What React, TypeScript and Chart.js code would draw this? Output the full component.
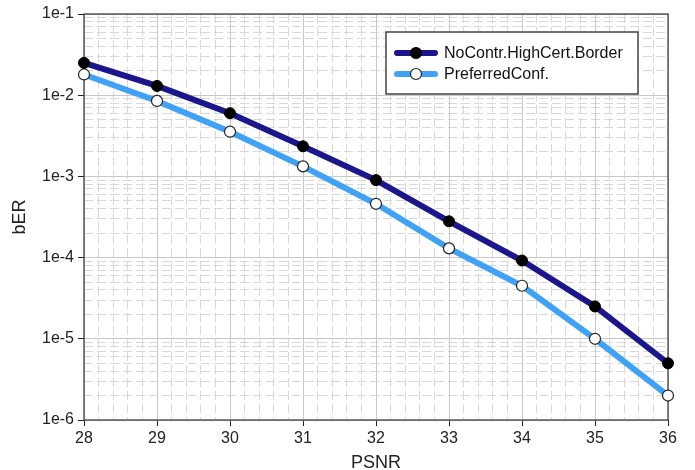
import React, { useEffect, useRef } from "react";
import { Chart, registerables } from "chart.js";

Chart.register(...registerables);

// PSNR values on the x axis
const psnr = [28, 29, 30, 31, 32, 33, 34, 35, 36];
// bit error rate per PSNR
const noContrHighCertBorder = [2.5e-2, 1.3e-2, 6.0e-3, 2.35e-3, 9.0e-4, 2.8e-4, 9.2e-5, 2.5e-5, 5.0e-6];
const preferredConf = [1.8e-2, 8.5e-3, 3.55e-3, 1.33e-3, 4.6e-4, 1.3e-4, 4.5e-5, 1.0e-5, 2.0e-6];
const seriesNames = ["NoContr.HighCert.Border", "PreferredConf."];
// decade ticks of the log axis
const decadeExponents = [-6, -5, -4, -3, -2, -1];

const FONT = "'Liberation Sans', Arial, Helvetica, sans-serif";
const DARK = "#1c168c";
const LIGHT = "#3fa2f6";

const framePlugin = {
  id: "frame",
  beforeDatasetsDraw(chart: any) {
    const { ctx, chartArea } = chart;
    ctx.save();
    ctx.strokeStyle = "#333";
    ctx.lineWidth = 1.2;
    ctx.strokeRect(chartArea.left, chartArea.top, chartArea.right - chartArea.left, chartArea.bottom - chartArea.top);
    ctx.restore();
  },
};

const boxedLegend = {
  id: "boxedLegend",
  afterDatasetsDraw(chart: any) {
    const { ctx } = chart;
    const x0 = 386, y0 = 32, w = 252, h = 62;
    ctx.save();
    ctx.fillStyle = "#fff";
    ctx.fillRect(x0, y0, w, h);
    ctx.strokeStyle = "#444";
    ctx.lineWidth = 1.5;
    ctx.strokeRect(x0, y0, w, h);
    chart.data.datasets.forEach((ds: any, i: number) => {
      const y = 53 + i * 21;
      ctx.beginPath();
      ctx.strokeStyle = ds.borderColor;
      ctx.lineWidth = 6;
      ctx.lineCap = "round";
      ctx.moveTo(397, y);
      ctx.lineTo(435, y);
      ctx.stroke();
      ctx.beginPath();
      ctx.arc(416, y, 5.5, 0, Math.PI * 2);
      ctx.fillStyle = ds.pointBackgroundColor;
      ctx.fill();
      ctx.lineWidth = 1.2;
      ctx.strokeStyle = ds.pointBorderColor;
      ctx.stroke();
      ctx.fillStyle = "#111";
      ctx.font = `16px ${FONT}`;
      ctx.textBaseline = "middle";
      ctx.textAlign = "left";
      ctx.fillText(ds.label, 444, y + 1);
    });
    ctx.restore();
  },
};

export default function App() {
  const ref = useRef<HTMLCanvasElement>(null);

  useEffect(() => {
    document.body.style.margin = "0";
    const canvas = ref.current;
    if (!canvas) return;
    const yMin = Math.pow(10, decadeExponents[0]);
    const yMax = Math.pow(10, decadeExponents[decadeExponents.length - 1]);
    const xMin = psnr[0];
    const xMax = psnr[psnr.length - 1];

    const chart = new Chart(canvas, {
      type: "line",
      data: {
        labels: psnr,
        datasets: [
          {
            label: seriesNames[0],
            data: psnr.map((x, i) => ({ x, y: noContrHighCertBorder[i] })),
            borderColor: DARK,
            borderWidth: 6,
            pointRadius: 5.5,
            pointBackgroundColor: "#000",
            pointBorderColor: "#000",
            pointBorderWidth: 1,
            tension: 0,
            clip: false as any,
          },
          {
            label: seriesNames[1],
            data: psnr.map((x, i) => ({ x, y: preferredConf[i] })),
            borderColor: LIGHT,
            borderWidth: 6,
            pointRadius: 5.5,
            pointBackgroundColor: "#fff",
            pointBorderColor: "#222",
            pointBorderWidth: 1.2,
            tension: 0,
            clip: false as any,
          },
        ],
      },
      options: {
        responsive: false,
        animation: false,
        layout: { padding: { left: 0, right: 27, top: 14, bottom: 0 } },
        plugins: { legend: { display: false }, tooltip: { enabled: false } },
        scales: {
          xMinor: {
            type: "linear",
            position: "top",
            min: xMin,
            max: xMax,
            ticks: { display: false, stepSize: 0.2 },
            border: { display: false, dash: [9, 4] },
            grid: {
              drawTicks: false,
              color: (c: any) =>
                Math.abs(c.tick.value - Math.round(c.tick.value)) < 1e-6 ? "rgba(0,0,0,0)" : "#d8d8d8",
            },
            afterFit: (s: any) => { s.height = 0; },
          },
          yMinor: {
            type: "logarithmic",
            position: "right",
            min: yMin,
            max: yMax,
            ticks: { display: false },
            border: { display: false, dash: [9, 4] },
            grid: { drawTicks: false, color: "#d8d8d8" },
            afterBuildTicks: (s: any) => {
              const t: any[] = [];
              decadeExponents.slice(0, -1).forEach((e) => {
                for (let k = 2; k <= 9; k++) t.push({ value: k * Math.pow(10, e) });
              });
              s.ticks = t;
            },
            afterFit: (s: any) => { s.width = 0; },
          },
          x: {
            type: "linear",
            position: "bottom",
            min: xMin,
            max: xMax,
            ticks: {
              stepSize: 1,
              padding: 3,
              color: "#222",
              font: { family: FONT, size: 16 },
            },
            border: { display: false },
            grid: { color: "#c8c8c8", tickColor: "#222", tickLength: 6 },
            title: {
              display: true,
              text: "PSNR",
              color: "#222",
              font: { family: FONT, size: 18, lineHeight: 1 },
              padding: { top: 0, bottom: -2 },
            },
            afterFit: (s: any) => { s.height = 50; },
          },
          y: {
            type: "logarithmic",
            position: "left",
            min: yMin,
            max: yMax,
            ticks: {
              padding: 4,
              color: "#222",
              font: { family: FONT, size: 16 },
              callback: (v: any) => `1e${Math.round(Math.log10(Number(v)))}`,
            },
            afterBuildTicks: (s: any) => {
              s.ticks = decadeExponents.map((e) => ({ value: Math.pow(10, e) }));
            },
            border: { display: false },
            grid: { color: "#c8c8c8", tickColor: "#222", tickLength: 6 },
            title: {
              display: true,
              text: "bER",
              color: "#222",
              font: { family: FONT, size: 18, lineHeight: 1 },
              padding: { top: 11, bottom: 0 },
            },
            afterFit: (s: any) => { s.width = 84; },
          },
        },
      },
      plugins: [framePlugin, boxedLegend],
    });
    return () => chart.destroy();
  }, []);

  return (
    <div style={{ width: 695, height: 470 }}>
      <canvas ref={ref} width={695} height={470} />
    </div>
  );
}
